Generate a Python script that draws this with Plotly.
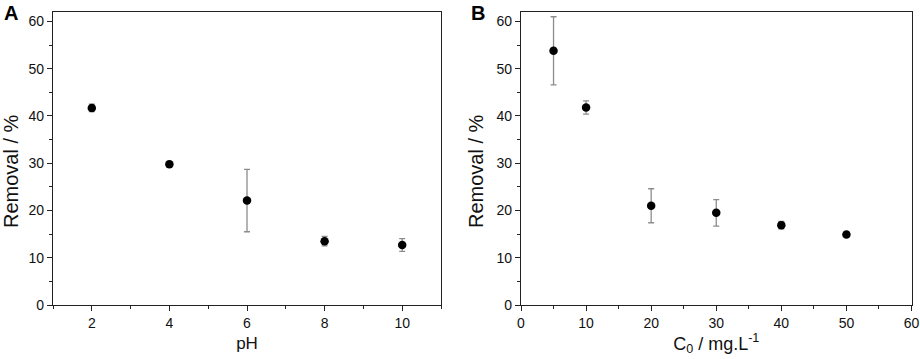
import plotly.graph_objects as go

# Panel A data
ph = [2, 4, 6, 8, 10]
removal_ph = [41.7, 29.8, 22.1, 13.5, 12.7]
err_ph = [0.8, 0.6, 6.6, 1.0, 1.35]

# Panel B data
c0 = [5, 10, 20, 30, 40, 50]
removal_c0 = [53.8, 41.8, 21.0, 19.5, 16.9, 14.9]
err_c0 = [7.2, 1.4, 3.6, 2.8, 0.8, 0.3]

FONT = "Liberation Sans, Arial, sans-serif"
AXC = "#222222"
W, H = 920, 359

fig = go.Figure()
err_style = dict(type="data", visible=True, color="#8c8c8c", thickness=1.3, width=3)
fig.add_trace(go.Scatter(x=ph, y=removal_ph, mode="markers",
                         marker=dict(color="black", size=8.5),
                         error_y=dict(array=err_ph, **err_style),
                         xaxis="x", yaxis="y", showlegend=False))
fig.add_trace(go.Scatter(x=c0, y=removal_c0, mode="markers",
                         marker=dict(color="black", size=8.5),
                         error_y=dict(array=err_c0, **err_style),
                         xaxis="x2", yaxis="y2", showlegend=False))

common = dict(showline=True, linecolor=AXC, linewidth=1.3, mirror=True,
              ticks="outside", ticklen=5, tickwidth=1.2, tickcolor=AXC,
              showgrid=False, zeroline=False, automargin=False,
              tickfont=dict(family=FONT, size=14, color="#111"))

ydom = [1 - 305 / H, 1 - 12 / H]
xt_font = dict(family=FONT, size=17, color="#111")
yt_font = dict(family=FONT, size=20, color="#111")

fig.update_layout(
    template="none",
    width=W, height=H,
    margin=dict(l=0, r=0, t=0, b=0),
    paper_bgcolor="white", plot_bgcolor="white",
    font=dict(family=FONT),
    showlegend=False,
    xaxis=dict(domain=[53 / W, 441 / W], range=[1, 11], tickvals=[2, 4, 6, 8, 10],
               minor=dict(dtick=1, tick0=1, ticks="outside", ticklen=3, tickcolor=AXC),
               title=dict(text="pH", standoff=7, font=xt_font), anchor="y", **common),
    yaxis=dict(domain=ydom, range=[0, 62], tickvals=[0, 10, 20, 30, 40, 50, 60],
               minor=dict(dtick=5, tick0=0, ticks="outside", ticklen=3, tickcolor=AXC),
               anchor="x", **common),
    xaxis2=dict(domain=[521 / W, 911.5 / W], range=[0, 60], tickvals=[0, 10, 20, 30, 40, 50, 60],
                minor=dict(dtick=5, tick0=0, ticks="outside", ticklen=3, tickcolor=AXC),
                title=dict(text="C<sub>0</sub> / mg.L<sup>-1</sup>", standoff=6,
                           font=dict(family=FONT, size=18, color="#111")),
                anchor="y2", **common),
    yaxis2=dict(domain=ydom, range=[0, 62], tickvals=[0, 10, 20, 30, 40, 50, 60],
                minor=dict(dtick=5, tick0=0, ticks="outside", ticklen=3, tickcolor=AXC),
                anchor="x2", **common),
    annotations=[
        dict(text="<b>A</b>", x=2 / W, y=1 - 0 / H, xref="paper", yref="paper",
             xanchor="left", yanchor="top", showarrow=False,
             font=dict(family=FONT, size=20, color="black")),
        dict(text="<b>B</b>", x=469 / W, y=1 - 0 / H, xref="paper", yref="paper",
             xanchor="left", yanchor="top", showarrow=False,
             font=dict(family=FONT, size=20, color="black")),
        dict(text="Removal / %", x=11 / W, y=1 - 171 / H, xref="paper", yref="paper",
             xanchor="center", yanchor="middle", textangle=-90, showarrow=False,
             font=yt_font),
        dict(text="Removal / %", x=476 / W, y=1 - 171 / H, xref="paper", yref="paper",
             xanchor="center", yanchor="middle", textangle=-90, showarrow=False,
             font=yt_font),
    ],
)

fig.write_html("out.html", config={"displayModeBar": False},
               post_script="document.body.style.margin='0';document.body.style.overflow='hidden';")
